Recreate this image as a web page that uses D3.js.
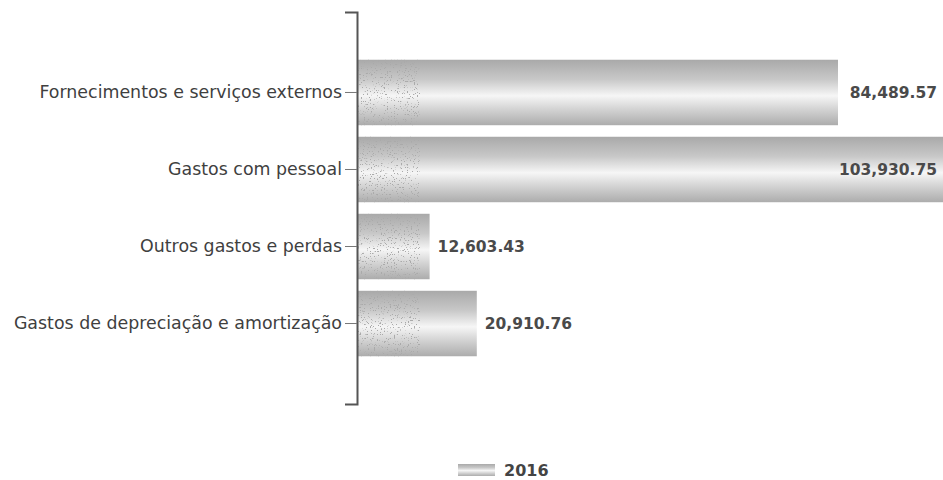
<!DOCTYPE html>
<html>
<head>
<meta charset="utf-8">
<script src="https://cdn.jsdelivr.net/npm/d3@7"></script>
<style>
  body { margin: 0; background: #fff; }
  svg { display: block; }
</style>
</head>
<body>
<div id="chart"></div>
<script>
const categories = [
    'Fornecimentos e serviços externos',
    'Gastos com pessoal',
    'Outros gastos e perdas',
    'Gastos de depreciação e amortização'
];
const values2016 = [84489.57, 103930.75, 12603.43, 20910.76];
const seriesName = '2016';

const width = 943, height = 480;
const margin = { top: 12, left: 357 };
const plotBottom = 404;

const svg = d3.select('#chart').append('svg')
    .attr('width', width)
    .attr('height', height);

const defs = svg.append('defs');

// cylinder-like vertical shading for the bars
const grad = defs.append('linearGradient')
    .attr('id', 'barGrad')
    .attr('x1', 0).attr('y1', 0).attr('x2', 0).attr('y2', 1);
[
    ['0%', '#a9a9a9'],
    ['30%', '#c8c8c8'],
    ['55%', '#f6f6f6'],
    ['75%', '#d4d4d4'],
    ['100%', '#acacac']
].forEach(([o, c]) => grad.append('stop').attr('offset', o).attr('stop-color', c));

// sparse speckle texture near the bar base
const speckle = defs.append('filter')
    .attr('id', 'speckle')
    .attr('x', 0).attr('y', 0).attr('width', 1).attr('height', 1);
speckle.append('feTurbulence')
    .attr('type', 'fractalNoise')
    .attr('baseFrequency', 0.7)
    .attr('numOctaves', 2)
    .attr('seed', 4)
    .attr('result', 'noise');
speckle.append('feColorMatrix')
    .attr('in', 'noise')
    .attr('type', 'matrix')
    .attr('values', '0 0 0 0 0.4  0 0 0 0 0.4  0 0 0 0 0.4  0 0 0 -14 5.2')
    .attr('result', 'dots');
speckle.append('feComposite')
    .attr('in', 'dots')
    .attr('in2', 'SourceGraphic')
    .attr('operator', 'in');

const x = d3.scaleLinear()
    .domain([0, values2016[0]])
    .range([margin.left + 1, 838]);

const y = d3.scaleBand()
    .domain(categories)
    .range([margin.top, plotBottom])
    .paddingInner(0.15)
    .paddingOuter(0.62);

const plot = svg.append('g');

plot.selectAll('rect.bar')
    .data(values2016)
    .enter()
    .append('rect')
    .attr('class', 'bar')
    .attr('x', x(0))
    .attr('y', (d, i) => y(categories[i]))
    .attr('width', d => x(d) - x(0))
    .attr('height', y.bandwidth())
    .attr('fill', 'url(#barGrad)');

// textured strip at the start of every bar
plot.selectAll('rect.tex')
    .data(values2016)
    .enter()
    .append('rect')
    .attr('class', 'tex')
    .attr('x', x(0))
    .attr('y', (d, i) => y(categories[i]))
    .attr('width', d => Math.min(62, x(d) - x(0)))
    .attr('height', y.bandwidth())
    .attr('fill', '#000')
    .attr('filter', 'url(#speckle)');

// value labels: outside the bar, or inside when the bar runs off the edge
const fmt = d3.format(',.2f');
const inside = d => x(d) + 8 > width - 100;
plot.selectAll('text.val')
    .data(values2016)
    .enter()
    .append('text')
    .attr('class', 'val')
    .attr('x', d => inside(d) ? width - 6 : x(d) + 8)
    .attr('y', (d, i) => y(categories[i]) + y.bandwidth() / 2)
    .attr('dy', '0.35em')
    .attr('text-anchor', d => inside(d) ? 'end' : 'start')
    .attr('font-family', 'DejaVu Sans, Verdana, sans-serif')
    .attr('font-weight', 'bold')
    .attr('font-size', 15.5)
    .attr('fill', '#4a4a4a')
    .text(d => fmt(d));

// category axis
const axis = svg.append('g')
    .attr('transform', `translate(${margin.left},0)`)
    .call(d3.axisLeft(y).tickSize(12).tickSizeOuter(12).tickPadding(3));

axis.select('.domain')
    .attr('stroke', '#555')
    .attr('stroke-width', 2);
axis.selectAll('.tick line')
    .attr('stroke', '#777')
    .attr('stroke-width', 1);
axis.selectAll('.tick text')
    .attr('font-family', 'DejaVu Sans, Verdana, sans-serif')
    .attr('font-size', 17.4)
    .attr('fill', '#3f3f3f');

// legend
const legend = svg.append('g')
    .attr('transform', 'translate(458,470)');
legend.append('rect')
    .attr('x', 0)
    .attr('y', -6)
    .attr('width', 37)
    .attr('height', 12)
    .attr('fill', 'url(#barGrad)');
legend.append('text')
    .attr('x', 46)
    .attr('dy', '0.35em')
    .attr('font-family', 'DejaVu Sans, Verdana, sans-serif')
    .attr('font-weight', 'bold')
    .attr('font-size', 16)
    .attr('fill', '#444')
    .text(seriesName);
</script>
</body>
</html>
